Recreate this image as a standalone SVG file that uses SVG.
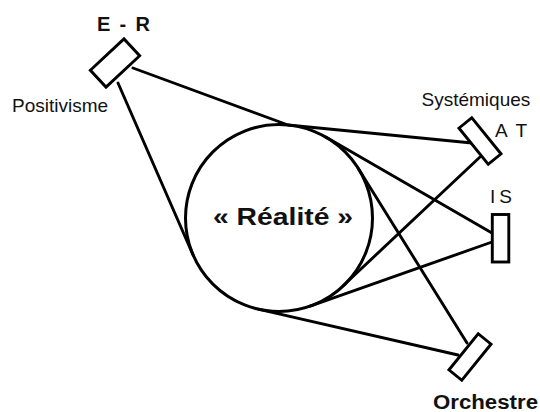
<svg xmlns="http://www.w3.org/2000/svg" width="540" height="412" viewBox="0 0 540 412">
  <style>
    .ln { stroke: #000; stroke-width: 2.9; fill: none; stroke-linecap: round; stroke-linejoin: round; }
    .box { stroke: #000; stroke-width: 2.9; fill: #fff; }
    .lbl { font-family: "Liberation Sans", Arial, sans-serif; font-size: 19px; fill: #111; }
    .bold { font-weight: bold; }
  </style>
  <rect width="540" height="412" fill="#fff"/>
  <g id="connectors">
    <polyline class="ln" points="133,68 288,125 472,143"/>
    <line class="ln" x1="118" y1="83" x2="193.3" y2="255.5"/>
    <line class="ln" x1="480" y1="157" x2="343.1" y2="285.8"/>
    <line class="ln" x1="492" y1="233" x2="325.8" y2="137"/>
    <line class="ln" x1="492" y1="242" x2="310.2" y2="306.2"/>
    <line class="ln" x1="467" y1="343" x2="358.3" y2="168.5"/>
    <line class="ln" x1="458" y1="355" x2="258.1" y2="309.1"/>
  </g>
  <g id="realite">
    <circle cx="279" cy="218" r="93.5" fill="none" stroke="#000" stroke-width="3"/>
    <text class="lbl bold" x="213" y="225" style="font-size:24px" textLength="140" lengthAdjust="spacingAndGlyphs">« Réalité »</text>
  </g>
  <g id="er">
    <rect class="box" x="-11.5" y="-23" width="23" height="46" transform="translate(115,63) rotate(47)"/>
    <text class="lbl bold" x="97" y="31" style="font-size:20px" textLength="53" lengthAdjust="spacing">E - R</text>
    <text class="lbl" x="12" y="111.5">Positivisme</text>
  </g>
  <g id="at">
    <rect class="box" x="-8.25" y="-23.25" width="16.5" height="46.5" transform="translate(480,141) rotate(-39)"/>
    <text class="lbl" x="421.5" y="105.5">Systémiques</text>
    <text class="lbl" x="495" y="137" textLength="32" lengthAdjust="spacing">A T</text>
  </g>
  <g id="is">
    <rect class="box" x="492.3" y="214.5" width="16.5" height="47.5"/>
    <text class="lbl" x="490" y="203" textLength="22" lengthAdjust="spacing">I S</text>
  </g>
  <g id="orchestre">
    <rect class="box" x="-8.25" y="-23.25" width="16.5" height="46.5" transform="translate(470,357) rotate(39)"/>
    <text class="lbl bold" x="433" y="409" style="font-size:20px" textLength="105" lengthAdjust="spacingAndGlyphs">Orchestre</text>
  </g>
</svg>
